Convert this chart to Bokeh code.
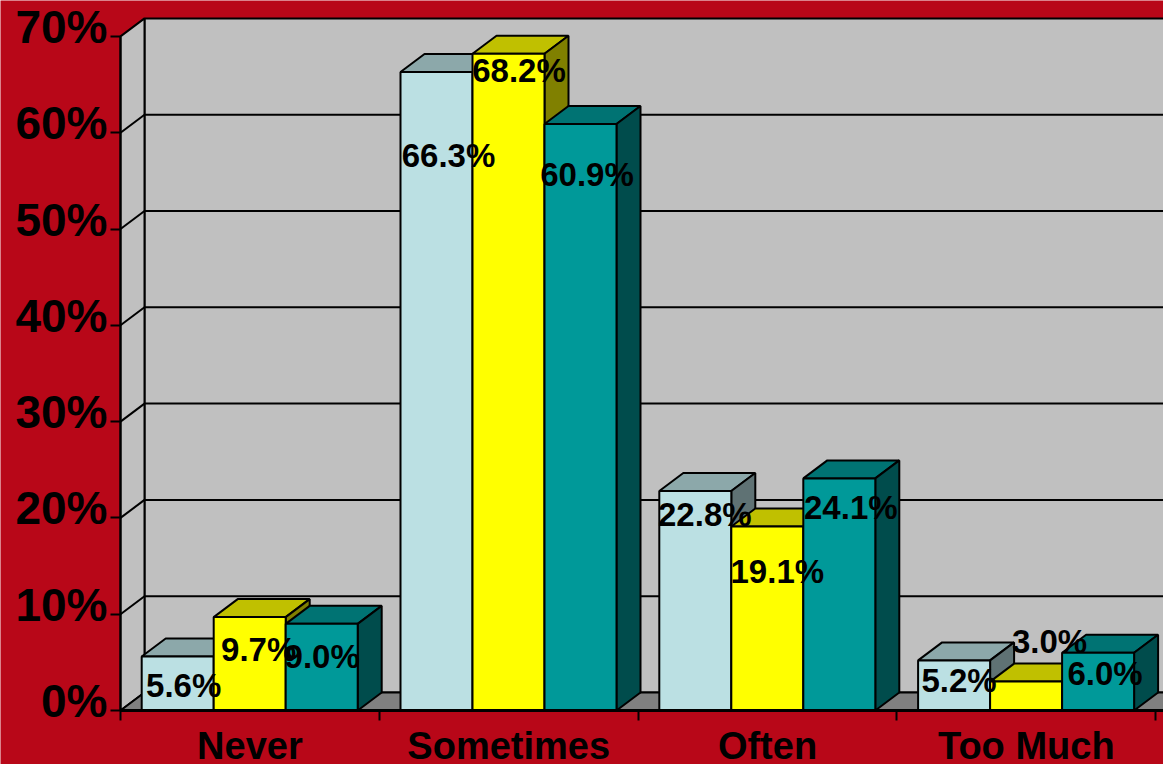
from bokeh.plotting import figure
from bokeh.embed import file_html
from bokeh.resources import INLINE
from bokeh.models import ColumnDataSource, FixedTicker, LinearAxis, Range1d
from bokeh.core.properties import value

categories = ["Never", "Sometimes", "Often", "Too Much"]
series_a = [5.6, 66.3, 22.8, 5.2]
series_b = [9.7, 68.2, 19.1, 3.0]
series_c = [9.0, 60.9, 24.1, 6.0]
y_ticks = [0, 10, 20, 30, 40, 50, 60, 70]
y_tick_labels = ["0%", "10%", "20%", "30%", "40%", "50%", "60%", "70%"]

# layout / style (screen units are pixels)
FONT = "Liberation Sans"
RED = "#B80718"
PX_PER_CAT = 258.8
PX_PER_PCT = 9.63
W, H = 1163, 764
AXIS_LEFT, AXIS_BOTTOM = 120, 54   # room for the axes inside the plot area
DX = 24 / PX_PER_CAT
DY = 18 / PX_PER_PCT
BAR_W = 72 / PX_PER_CAT
GROUP_L = 21.2 / PX_PER_CAT
STYLES = [("#BBE0E3", "#8CA8AA", "#5F7274"),
          ("#FFFF00", "#C0C000", "#808000"),
          ("#009999", "#007373", "#004C4C")]
# screen offset of each value label from its bar's front-top centre
LABEL_DX = [[6, 12, 9.5, 5], [9, 10.5, 10, 23.5], [0.5, 6.5, 11.5, 7]]
LABEL_DY = [[29, 83, 24, 20.5], [32, 17, 45, -40.5], [33, 50.5, 29, 20.5]]

x_end = (W - AXIS_LEFT) / PX_PER_CAT
y_end = (H - AXIS_BOTTOM) / PX_PER_PCT

p = figure(width=W, height=H, output_backend="svg", toolbar_location=None,
           x_range=Range1d(-AXIS_LEFT / PX_PER_CAT, x_end),
           y_range=Range1d(-AXIS_BOTTOM / PX_PER_PCT, y_end),
           x_axis_location=None, y_axis_location=None,
           min_border_left=0, min_border_right=0, min_border_top=0, min_border_bottom=0)
p.border_fill_color = RED
p.background_fill_color = RED
p.outline_line_color = None
p.grid.visible = False

# walls and floor
y_top = y_ticks[-1]
p.patch([DX, x_end + 1, x_end + 1, DX], [DY, DY, y_top + DY, y_top + DY],
        fill_color="#C0C0C0", line_color="black", line_width=2)
p.patch([0, DX, DX, 0], [0, DY, y_top + DY, y_top],
        fill_color="#C0C0C0", line_color="black", line_width=2)
p.patch([0, DX, x_end + 1, x_end + 1], [0, DY, DY, 0],
        fill_color="#808080", line_color="black", line_width=2)
grid = y_ticks[1:-1]
p.segment([DX] * len(grid), [v + DY for v in grid], [x_end] * len(grid), [v + DY for v in grid],
          line_color="black", line_width=2)
p.segment([0] * len(grid), grid, [DX] * len(grid), [v + DY for v in grid],
          line_color="black", line_width=2)

# 3-D bars, painted left to right
lx, ly, lt, ldx, ldy = [], [], [], [], []
all_series = [series_a, series_b, series_c]
for i in range(len(categories)):
    for j, vals in enumerate(all_series):
        front, top, side = STYLES[j]
        v = vals[i]
        x0 = i + GROUP_L + j * BAR_W
        x1 = x0 + BAR_W
        p.patch([x0, x1, x1 + DX, x0 + DX], [v, v, v + DY, v + DY],
                fill_color=top, line_color="black", line_width=2)
        p.patch([x1, x1 + DX, x1 + DX, x1], [0, DY, v + DY, v],
                fill_color=side, line_color="black", line_width=2)
        p.quad(left=x0, right=x1, bottom=0, top=v,
               fill_color=front, line_color="black", line_width=2)
        lx.append((x0 + x1) / 2)
        ly.append(v)
        lt.append(f"{v:.1f}%")
        ldx.append(LABEL_DX[j][i])
        ldy.append(LABEL_DY[j][i])

p.text(x="x", y="y", text="t", x_offset="dx", y_offset="dy",
       source=ColumnDataSource(dict(x=lx, y=ly, t=lt, dx=ldx, dy=ldy)),
       text_font=value(FONT), text_font_style="bold", text_font_size="33px",
       text_align="center", text_baseline="middle", text_color="black")

# x axis: tick marks between categories, names below
xa = LinearAxis(fixed_location=0, bounds=(0, x_end + 1),
                ticker=FixedTicker(ticks=[], minor_ticks=list(range(len(categories) + 1))))
xa.major_tick_line_color = None
xa.minor_tick_in = 0
xa.minor_tick_out = 10
xa.minor_tick_line_color = "black"
xa.minor_tick_line_width = 2
xa.axis_line_color = "black"
xa.axis_line_width = 3
p.add_layout(xa, "below")
p.text(x=[i + 0.5 for i in range(len(categories))], y=[0] * len(categories), text=categories,
       y_offset=35, text_font=value(FONT), text_font_style="bold", text_font_size="38px",
       text_line_height=1.0, text_align="center", text_baseline="middle", text_color="black")

# y axis: tick marks at the values, labels slightly above each tick
ya = LinearAxis(fixed_location=0, bounds=(y_ticks[0], y_ticks[-1]),
                ticker=FixedTicker(ticks=[], minor_ticks=y_ticks))
ya.major_tick_line_color = None
ya.minor_tick_in = 0
ya.minor_tick_out = 10
ya.minor_tick_line_width = 2
ya.minor_tick_line_color = "black"
ya.axis_line_width = 2
ya.axis_line_color = "black"
p.add_layout(ya, "left")
p.text(x=[0] * len(y_ticks), y=y_ticks, text=y_tick_labels,
       x_offset=-13, y_offset=-9.5, text_font=value(FONT), text_font_style="bold", text_font_size="46px",
       text_line_height=1.0, text_align="right", text_baseline="middle", text_color="black")

open("out.html", "w").write(file_html(p, INLINE))
